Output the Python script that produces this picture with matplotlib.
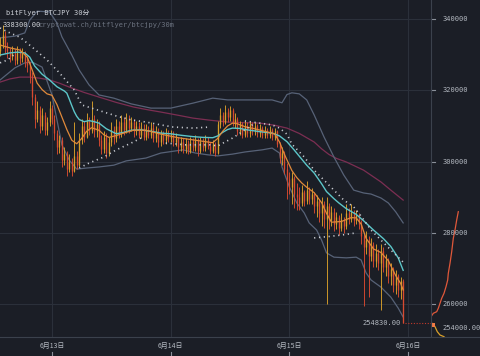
import numpy as np
import matplotlib
matplotlib.use("Agg")
import matplotlib.pyplot as plt
from matplotlib.lines import Line2D

# ---------------- data ----------------
# 30-minute candles, first one at 6/12 13:30 (hours relative to 6/13 00:00)
first_hour = -10.5
candle_step_h = 0.5
first_open_k = 331.0
close_k = [333.0, 335.5, 332.0, 331.0, 329.5, 330.5, 328.5, 331.0, 329.0, 330.5,
           328.0, 327.0, 324.0, 318.0, 312.0, 314.5, 310.0, 313.0, 309.0, 311.0,
           315.0, 312.0, 308.0, 304.0, 306.0, 300.5, 302.0, 298.0, 300.0, 297.5,
           301.5, 299.0, 306.0, 310.0, 307.0, 311.5, 309.0, 312.0, 308.5, 310.5,
           306.0, 303.5, 307.0, 302.5, 305.5, 309.0, 306.5, 310.0, 308.0, 311.0,
           309.0, 312.0, 309.5, 311.0, 308.5, 310.0, 307.5, 309.5, 307.0, 309.0,
           307.5, 309.5, 306.5, 308.5, 305.5, 307.5, 306.0, 308.0, 306.5, 307.5,
           305.5, 306.5, 304.0, 305.5, 303.5, 305.0, 303.0, 305.5, 304.0, 306.0,
           303.0, 305.5, 304.0, 306.0, 304.5, 303.0, 305.0, 302.5, 310.5, 313.0,
           311.0, 314.0, 312.5, 314.5, 311.0, 312.0, 308.5, 310.5, 307.5, 310.0,
           308.0, 310.5, 308.5, 310.0, 308.0, 309.5, 307.5, 309.0, 307.5, 309.0,
           307.0, 308.5, 305.0, 301.0, 302.5, 298.0, 295.0, 293.0, 295.5, 291.0,
           290.0, 288.5, 291.5, 289.0, 292.0, 289.5, 291.0, 287.5, 289.0, 285.5,
           288.0, 284.0, 287.5, 283.5, 286.0, 282.5, 284.5, 281.5, 283.5, 282.0,
           285.5, 284.0, 286.0, 283.5, 285.0, 282.5, 279.0, 276.0, 278.0, 273.5,
           276.5, 272.0, 274.5, 271.5, 275.0, 270.5, 272.5, 268.0, 270.0, 265.5,
           268.0, 264.0, 266.5, 254.83]
high_k = [335.0, 338.3, 336.5, 333.5, 332.0, 332.5, 331.5, 332.5, 332.0, 332.0,
          331.0, 329.5, 328.0, 325.0, 319.0, 317.0, 315.5, 315.0, 314.0, 312.5,
          317.0, 316.0, 313.0, 309.0, 307.5, 307.0, 304.0, 303.0, 302.0, 301.0,
          311.0, 303.0, 308.0, 312.0, 311.5, 313.5, 312.5, 317.0, 313.0, 312.0,
          311.5, 307.5, 308.5, 308.0, 307.0, 311.0, 310.0, 312.0, 311.5, 313.0,
          312.5, 313.5, 313.0, 312.5, 312.0, 311.5, 311.0, 311.0, 310.5, 310.5,
          310.0, 311.0, 310.5, 310.0, 309.5, 309.0, 308.5, 309.5, 309.0, 309.0,
          308.5, 308.0, 307.0, 307.0, 306.5, 306.5, 306.0, 307.0, 306.5, 307.5,
          306.5, 307.0, 306.5, 307.5, 307.0, 305.5, 306.0, 305.5, 311.5, 315.0,
          314.0, 316.0, 315.0, 315.5, 315.0, 313.5, 312.5, 311.5, 311.0, 311.5,
          311.0, 311.5, 311.0, 311.0, 310.5, 310.5, 310.0, 310.0, 309.5, 310.0,
          309.5, 309.5, 309.0, 305.5, 304.0, 303.0, 299.5, 297.0, 297.0, 296.0,
          294.0, 293.0, 293.5, 292.0, 294.5, 293.0, 292.5, 291.5, 290.5, 289.5,
          290.0, 289.0, 290.0, 288.5, 287.5, 287.0, 286.0, 285.0, 285.5, 284.5,
          288.0, 287.0, 288.0, 286.5, 286.5, 285.5, 283.5, 280.0, 280.5, 279.0,
          278.5, 277.5, 277.0, 275.5, 277.0, 276.0, 274.0, 273.0, 271.5, 270.5,
          269.5, 268.5, 267.5, 267.0]
low_k = [329.5, 332.0, 330.5, 329.0, 328.0, 328.5, 327.0, 327.5, 327.5, 328.0,
         326.5, 325.0, 322.0, 316.0, 309.5, 311.0, 308.0, 309.0, 307.5, 307.5,
         310.0, 310.5, 306.0, 302.0, 302.5, 298.5, 299.0, 296.0, 297.0, 296.0,
         297.0, 298.0, 298.5, 305.0, 305.5, 306.5, 307.5, 308.0, 307.0, 307.0,
         304.5, 302.0, 302.5, 301.0, 301.5, 304.5, 305.0, 305.5, 306.5, 307.0,
         307.5, 308.0, 308.0, 308.5, 307.0, 307.5, 306.5, 306.5, 306.0, 306.0,
         306.5, 306.5, 305.5, 305.5, 304.0, 304.5, 305.0, 305.0, 305.5, 305.5,
         304.5, 304.5, 302.5, 303.0, 302.5, 302.5, 302.0, 302.5, 303.0, 303.0,
         301.5, 302.5, 303.0, 303.0, 303.5, 302.0, 302.5, 301.5, 302.0, 309.5,
         310.0, 310.5, 311.0, 311.5, 310.0, 309.5, 307.5, 307.5, 306.5, 307.0,
         307.0, 307.0, 307.5, 307.5, 307.0, 307.0, 306.5, 306.5, 306.5, 306.5,
         306.0, 306.0, 304.0, 299.5, 299.0, 296.5, 289.5, 291.0, 288.0, 287.0,
         286.5, 286.5, 287.5, 287.5, 288.0, 288.0, 288.0, 285.5, 284.5, 283.0,
         282.0, 281.5, 260.0, 281.0, 282.0, 280.5, 281.0, 279.5, 280.5, 280.0,
         281.0, 282.5, 283.0, 282.0, 282.5, 281.0, 277.0, 259.5, 274.0, 262.0,
         272.0, 270.5, 270.5, 269.5, 258.5, 269.0, 268.0, 266.0, 265.5, 263.5,
         263.0, 262.0, 261.5, 254.83]

# indicator lines: (candle index, value in thousand JPY)
ema_fast_idx = [0, 4, 8, 11, 13, 15, 17, 19, 21, 23, 25, 27, 29, 31, 33, 35, 37, 40, 42, 44,
                47, 50, 54, 59, 65, 72, 79, 86, 88, 90, 92, 94, 96, 99, 103, 107, 111, 113,
                115, 118, 120, 122, 124, 127, 130, 132, 134, 138, 142, 144, 146, 148, 151,
                154, 157, 160, 162, 163]
ema_fast_k = [332.7, 331.9, 331.3, 329.3, 325.7, 322.0, 320.2, 319.0, 318.6, 316.0, 312.5,
              309.0, 306.0, 305.0, 306.5, 308.5, 309.5, 308.8, 307.5, 306.8, 307.3, 308.0,
              308.8, 308.8, 307.7, 306.7, 306.0, 305.3, 306.5, 308.5, 310.0, 310.8, 310.6,
              309.8, 309.2, 308.5, 307.8, 305.5, 302.0, 297.5, 295.5, 294.0, 292.8, 291.3,
              288.5, 285.5, 283.0, 283.2, 284.3, 284.2, 282.5, 278.5, 275.5, 274.5, 272.2,
              268.0, 265.8, 264.0]
ema_slow_idx = [0, 4, 7, 10, 12, 14, 17, 20, 23, 26, 27, 28, 29, 30, 31, 32, 34, 36, 38, 40,
                43, 47, 50, 53, 57, 61, 65, 69, 73, 78, 82, 86, 88, 90, 92, 94, 97, 100, 105,
                110, 113, 116, 119, 121, 124, 127, 130, 132, 135, 137, 140, 144, 147, 151,
                155, 158, 161, 163]
ema_slow_k = [329.9, 330.5, 330.7, 330.5, 329.3, 326.8, 324.5, 322.9, 321.0, 319.8, 319.2,
              317.5, 315.7, 314.0, 312.7, 311.8, 311.2, 311.5, 311.2, 310.8, 309.2, 307.8,
              308.2, 308.8, 308.9, 308.5, 308.0, 307.8, 307.4, 307.0, 306.8, 306.7, 307.2,
              308.2, 309.0, 309.4, 309.3, 308.9, 308.4, 308.0, 307.2, 305.6, 303.2, 301.5,
              299.0, 296.8, 293.8, 291.6, 289.6, 288.4, 286.8, 285.2, 283.4, 280.8, 278.4,
              276.2, 273.0, 269.5]
ma_long_idx = [0, 4, 8, 12, 16, 20, 24, 28, 34, 40, 47, 54, 60, 65, 72, 78, 85, 92, 99, 105,
               111, 116, 121, 127, 130, 133, 136, 140, 147, 154, 158, 163]
ma_long_k = [322.3, 323.2, 323.7, 323.7, 323.4, 322.9, 322.0, 320.9, 319.4, 318.1, 316.6,
             315.3, 314.5, 313.9, 313.0, 312.2, 311.6, 311.1, 310.9, 310.8, 310.2, 309.4,
             307.9, 305.5, 303.6, 302.0, 300.9, 299.9, 297.6, 294.3, 292.0, 289.2]
bb_up_idx = [0, 6, 10, 12, 15, 20, 23, 25, 29, 32, 36, 40, 46, 53, 61, 69, 78, 86, 92, 100,
             110, 114, 116, 118, 121, 124, 127, 131, 135, 139, 143, 147, 150, 154, 157, 160,
             163]
bb_up_k = [334.7, 335.2, 336.1, 339.7, 342.2, 342.0, 338.9, 335.0, 329.9, 325.7, 321.5,
           318.7, 317.8, 316.2, 315.0, 315.0, 316.4, 317.8, 317.3, 317.3, 317.3, 316.5,
           318.8, 319.3, 319.0, 317.3, 313.1, 306.9, 301.3, 296.2, 292.0, 291.2, 290.9,
           289.8, 288.4, 285.9, 282.8]
bb_lo_idx = [0, 6, 10, 13, 17, 21, 23, 25, 28, 31, 35, 40, 46, 51, 59, 65, 74, 79, 84, 88,
             94, 99, 106, 110, 113, 114, 117, 120, 123, 125, 128, 130, 132, 135, 140, 144,
             146, 148, 150, 154, 158, 161, 163]
bb_lo_k = [322.9, 326.3, 327.7, 327.9, 326.5, 318.7, 311.7, 304.7, 300.4, 297.9, 298.2,
           298.5, 299.0, 300.2, 301.0, 302.4, 303.3, 302.4, 301.9, 301.6, 302.1, 302.7,
           303.3, 303.8, 302.4, 298.5, 292.9, 288.4, 285.6, 282.8, 280.8, 278.0, 274.4,
           273.2, 273.0, 273.2, 272.4, 268.8, 266.8, 264.8, 262.0, 258.9, 256.4]
# dotted trailing-stop lines (NaN = not drawn)
stop_up_idx = [0, 3, 8, 13, 19, 24, 30, 33, 42, 47, 53, 59, 65, 70, 78, 85, 92, 99, 105,
               110, 113, 116, 118, 123, 127, 131, 135, 139, 143, 146, 150, 154, 158, 163]
stop_up_k = [337.5, 336.4, 334.9, 332.1, 328.5, 324.9, 320.1, 315.9, 313.9, 312.8, 311.7,
             311.1, 310.3, 309.7, 309.4, 309.7, np.nan, 311.4, 310.8, 310.3, 309.4, 307.7,
             304.9, 301.3, 297.6, 294.8, 292.0, 289.2, 287.3, 284.7, 280.8, 278.0, 275.2,
             271.8]
stop_lo_idx = [0, 3, 6, 20, 32, 36, 42, 47, 53, 57, 62, 67, 75, 85, 88, 94, 99, 103, 115,
               127, 133, 138, 144]
stop_lo_k = [327.7, 328.5, 330.2, np.nan, 298.2, 299.6, 301.3, 303.3, 305.2, 306.6, np.nan,
             305.2, 304.7, 304.7, 304.4, 306.6, 308.9, 310.8, np.nan, 278.6, 279.0, 279.4,
             280.0]

# order book depth (price in JPY, cumulative volume in BTC)
ask_price = [256495, 257448, 257897, 258851, 260253, 261656, 263058, 264910, 266790,
             268669, 271474, 274728, 278486, 280815, 283620, 285948]
ask_volume = [0, 23, 57, 73, 90, 107, 130, 150, 167, 173, 190, 207, 223, 240, 257, 273]
bid_price = [254643, 253690, 252287, 251362, 250885]
bid_volume = [10, 40, 63, 90, 130]

last_price = 254830.00
depth_mid_price = 254000.00
period_high = 338300.00
price_ticks = [260000, 280000, 300000, 320000, 340000]
date_hours = [0, 24, 48, 72]
date_labels = ["6月13日", "6月14日", "6月15日", "6月16日"]
title_text = "bitFlyer BTCJPY 30分"
url_text = "cryptowat.ch/bitflyer/btcjpy/30m"

# ---------------- style ----------------
BG = "#1b1e26"
GRID = "#2b303a"
AXIS = "#3b414c"
UP = "#d9a02a"
DOWN = "#d84a30"
CYAN = "#5cc6c9"
ORANGE = "#e0893a"
MAGENTA = "#7c2e52"
BAND = "#576277"
DOT = "#c9ccd2"
TXT = "#b3b8c0"

W, H = 480, 356
fig = plt.figure(figsize=(W / 100, H / 100), dpi=100, facecolor=BG)
ax = fig.add_axes([0, 19 / H, 431 / W, 337 / H])
ax.set_facecolor(BG)
for s in ax.spines.values():
    s.set_visible(False)
ax.set_xticks([])
ax.set_yticks([])
px_per_h = 4.946
ax.set_xlim(-52 / px_per_h, (431 - 52) / px_per_h)
ymin, ymax = 250801, 345330
ax.set_ylim(ymin, ymax)

for p in price_ticks:
    ax.axhline(p, color=GRID, lw=0.8, zorder=0)
for h in date_hours:
    ax.axvline(h, color=GRID, lw=0.8, zorder=0)

close = np.array(close_k) * 1000
high = np.array(high_k) * 1000
low = np.array(low_k) * 1000
opn = np.r_[first_open_k * 1000, close[:-1]]
n = len(close)
tt = first_hour + candle_step_h * np.arange(n)
cols = [UP if c >= o else DOWN for o, c in zip(opn, close)]

def idx_t(idx):
    return first_hour + candle_step_h * np.asarray(idx, dtype=float)

ax.plot(idx_t(ma_long_idx), np.array(ma_long_k) * 1000, color=MAGENTA, lw=0.9, zorder=1)
ax.plot(idx_t(bb_up_idx), np.array(bb_up_k) * 1000, color=BAND, lw=0.9, zorder=1)
ax.plot(idx_t(bb_lo_idx), np.array(bb_lo_k) * 1000, color=BAND, lw=0.9, zorder=1)

ax.vlines(tt, low, high, colors=cols, lw=0.65, zorder=2)
ax.vlines(tt, np.minimum(opn, close), np.maximum(opn, close), colors=cols, lw=0.95, zorder=2)

ax.plot(idx_t(ema_slow_idx), np.array(ema_slow_k) * 1000, color=CYAN, lw=1.0, zorder=3)
ax.plot(idx_t(ema_fast_idx), np.array(ema_fast_k) * 1000, color=ORANGE, lw=0.9, zorder=3)
ax.plot(idx_t(stop_up_idx), np.array(stop_up_k) * 1000, color=DOT, lw=1.2,
        ls=(0, (0.7, 2.2)), zorder=3)
ax.plot(idx_t(stop_lo_idx), np.array(stop_lo_k) * 1000, color=DOT, lw=1.2,
        ls=(0, (0.7, 2.2)), zorder=3)

# last price line + label
ax.plot([(405 - 52) / px_per_h, (431 - 52) / px_per_h], [last_price, last_price],
        color="#c0392b", lw=0.8, ls=(0, (1, 1.5)), zorder=4)
ax.text((401 - 52) / px_per_h, last_price, f"{last_price:.2f}", color=TXT,
        fontsize=5.0, family="DejaVu Sans Mono", ha="right", va="center", zorder=5)

# ---------------- right price panel with depth ----------------
ax2 = fig.add_axes([431 / W, 19 / H, 49 / W, 337 / H])
ax2.set_facecolor("none")
for s in ax2.spines.values():
    s.set_visible(False)
ax2.set_xticks([])
ax2.set_yticks([])
ax2.set_xlim(0, 490)
ax2.set_ylim(ymin, ymax)
ax2.plot(ask_volume, ask_price, color="#e0583a", lw=0.9)
ax2.plot(bid_volume, bid_price, color=UP, lw=0.9)
ax2.plot([18], [depth_mid_price + 300], marker="s", ms=2.5, color="#f07a45", mew=0)
for p in price_ticks:
    ax2.plot([0, 35], [p, p], color="#8a909a", lw=0.8)
    ax2.text(115, p, f"{p}", color=TXT, fontsize=5.0, family="DejaVu Sans Mono",
             va="center", ha="left")
ax2.text(110, depth_mid_price - 800, f"{depth_mid_price:.2f}", color=TXT, fontsize=5.0,
         family="DejaVu Sans Mono", va="center", ha="left")

# frame lines
fig.add_artist(Line2D([0, 1], [19 / H, 19 / H], color=AXIS, lw=0.8))
fig.add_artist(Line2D([431 / W, 431 / W], [19 / H, 1], color=AXIS, lw=0.8))

# date labels and ticks
for h, lab in zip(date_hours, date_labels):
    xpix = 52 + h * px_per_h
    fig.text(xpix / W, 1 - 346 / H, lab, color=TXT, fontsize=5.0,
             family=["Noto Sans CJK JP", "DejaVu Sans"], ha="center", va="center")
    fig.add_artist(Line2D([xpix / W, xpix / W], [0, 4 / H], color="#8a909a", lw=0.8))

# titles
fig.text(6 / W, 1 - 13 / H, title_text, color="#c9cdd4", fontsize=5.0,
         family=["DejaVu Sans Mono", "Noto Sans CJK JP"], ha="left", va="center")
fig.text(38 / W, 1 - 25 / H, url_text, color="#6c7380", fontsize=5.0,
         family="DejaVu Sans Mono", ha="left", va="center")
fig.text(3 / W, 1 - 25 / H, f"{period_high:.2f}", color="#d0d3d8", fontsize=5.0,
         family="DejaVu Sans Mono", ha="left", va="center")

fig.savefig("out.png", dpi=100, facecolor=BG)
